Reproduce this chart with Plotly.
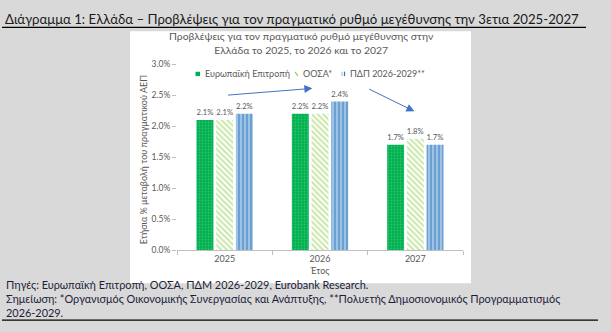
import plotly.graph_objects as go

years = ["2025", "2026", "2027"]
ec = [0.021, 0.022, 0.017]
oecd = [0.021, 0.022, 0.018]
mtfs = [0.022, 0.024, 0.017]
series_names = ["Ευρωπαϊκή Επιτροπή", "ΟΟΣΑ*", "ΠΔΠ 2026-2029**"]
y_ticks = [0, 0.005, 0.01, 0.015, 0.02, 0.025, 0.03]

W, H = 611, 332
def px(x): return x / W
def py(y): return 1 - y / H

FONT = "Lato"
GRAY = "#595959"

fig = go.Figure()
fig.add_bar(x=years, y=ec, name=series_names[0],
            marker=dict(color="#00b050", line=dict(width=0),
                        pattern=dict(shape=".", fgcolor="#5fd38a", bgcolor="#00b050", size=3, solidity=0.3)),
            text=[f"{v*100:.1f}%" for v in ec], textposition="outside")
fig.add_bar(x=years, y=oecd, name=series_names[1],
            marker=dict(color="#92d050", line=dict(width=0),
                        pattern=dict(shape="\\", fgcolor="#92d050", bgcolor="white", size=4, solidity=0.5)),
            text=[f"{v*100:.1f}%" for v in oecd], textposition="outside")
fig.add_bar(x=years, y=mtfs, name=series_names[2],
            marker=dict(color="#2e75b6", line=dict(width=0),
                        pattern=dict(shape="|", fgcolor="#2e75b6", bgcolor="#9dc3e6", size=4, solidity=0.45)),
            text=[f"{v*100:.1f}%" for v in mtfs], textposition="outside")

fig.update_traces(textfont=dict(family=FONT, size=9.8, color=GRAY), cliponaxis=False)

fig.update_layout(
    width=W, height=H,
    margin=dict(l=0, r=0, t=0, b=0),
    paper_bgcolor="#d9d9d9", plot_bgcolor="white",
    barmode="group", bargap=0.38, bargroupgap=0.14,
    font=dict(family=FONT, size=9, color=GRAY),
    showlegend=False,
    xaxis=dict(domain=[px(177), px(463)], type="category", showline=True, linecolor="#bfbfbf",
               ticks="outside", ticklen=4, tickcolor="#bfbfbf", tickson="boundaries",
               title=dict(text="Έτος", font=dict(family=FONT, size=9, color=GRAY), standoff=4),
               tickfont=dict(family=FONT, size=9, color=GRAY), anchor="y"),
    yaxis=dict(domain=[py(253), py(61)], range=[0, 0.03], tickvals=y_ticks, tickformat=".1%",
               showgrid=False, showline=False, zeroline=False, ticks="outside", ticklen=4,
               tickcolor="#bfbfbf",
               tickfont=dict(family=FONT, size=8.5, color=GRAY)),
)

# chart panel
fig.add_shape(type="rect", xref="paper", yref="paper", x0=px(130), x1=px(471), y0=py(287), y1=py(27),
              fillcolor="white", line=dict(width=0), layer="below")
# title underline and footer line
fig.add_shape(type="line", xref="paper", yref="paper", x0=px(2), x1=px(586), y0=py(23), y1=py(23),
              line=dict(color="black", width=1.3))
fig.add_shape(type="line", xref="paper", yref="paper", x0=px(2), x1=px(598), y0=py(325), y1=py(325),
              line=dict(color="black", width=1.3))

# legend (compact, as in the original)
LY = 71
fig.add_shape(type="rect", xref="paper", yref="paper", x0=px(195.5), x1=px(200), y0=py(LY + 2.3), y1=py(LY - 2.2),
              fillcolor="#00b050", line=dict(width=0))
fig.add_shape(type="line", xref="paper", yref="paper", x0=px(295), x1=px(298), y0=py(LY - 2), y1=py(LY + 2),
              line=dict(color="#92d050", width=1.2))
fig.add_shape(type="line", xref="paper", yref="paper", x0=px(342), x1=px(342), y0=py(LY - 2.3), y1=py(LY + 2.3),
              line=dict(color="#9dc3e6", width=1.2))
fig.add_shape(type="line", xref="paper", yref="paper", x0=px(344.5), x1=px(344.5), y0=py(LY - 2.3), y1=py(LY + 2.3),
              line=dict(color="#2e75b6", width=1.2))
for lx, name in zip([202.5, 300.5, 347.5], series_names):
    fig.add_annotation(xref="paper", yref="paper", x=px(lx), y=py(LY), xanchor="left", yanchor="middle",
                       text=name, showarrow=False, font=dict(family=FONT, size=9, color=GRAY))

fig.add_annotation(xref="paper", yref="paper", x=px(3), y=py(14), xanchor="left", yanchor="middle",
                   text="Διάγραμμα 1: Ελλάδα – Προβλέψεις για τον πραγματικό ρυθμό μεγέθυνσης την 3ετια 2025-2027",
                   showarrow=False, font=dict(family=FONT, size=13.2, color="#1a1a1a"))
fig.add_annotation(xref="paper", yref="paper", x=px(301), y=py(39), xanchor="center", yanchor="middle",
                   text="Προβλέψεις για τον πραγματικό ρυθμό μεγέθυνσης στην<br>Ελλάδα το 2025, το 2026 και το 2027",
                   showarrow=False, font=dict(family=FONT, size=10.4, color=GRAY))
fig.add_annotation(xref="paper", yref="paper", x=px(143), y=py(160), xanchor="center", yanchor="middle",
                   text="Ετήσια % μεταβολή του πραγματικού ΑΕΠ", textangle=-90,
                   showarrow=False, font=dict(family=FONT, size=9, color=GRAY))
fig.add_annotation(xref="paper", yref="paper", x=px(4), y=py(303), xanchor="left", yanchor="middle", align="left",
                   text="Πηγές: Ευρωπαϊκή Επιτροπή, ΟΟΣΑ, ΠΔΜ 2026-2029, Eurobank Research.<br>"
                        "Σημείωση: *Οργανισμός Οικονομικής Συνεργασίας και Ανάπτυξης, **Πολυετής Δημοσιονομικός Προγραμματισμός<br>2026-2029.",
                   showarrow=False, font=dict(family=FONT, size=10.9, color="#1c1c3a"))

# arrows
fig.add_annotation(x=0.92, y=0.0261, ax=0.02, ay=0.0250, xref="x", yref="y", axref="x", ayref="y",
                   text="", showarrow=True, arrowhead=2, arrowsize=1.6, arrowwidth=1, arrowcolor="#4472c4")
fig.add_annotation(x=1.99, y=0.0224, ax=1.5, ay=0.0261, xref="x", yref="y", axref="x", ayref="y",
                   text="", showarrow=True, arrowhead=2, arrowsize=1.6, arrowwidth=1, arrowcolor="#4472c4")

fig.write_html("out.html")
